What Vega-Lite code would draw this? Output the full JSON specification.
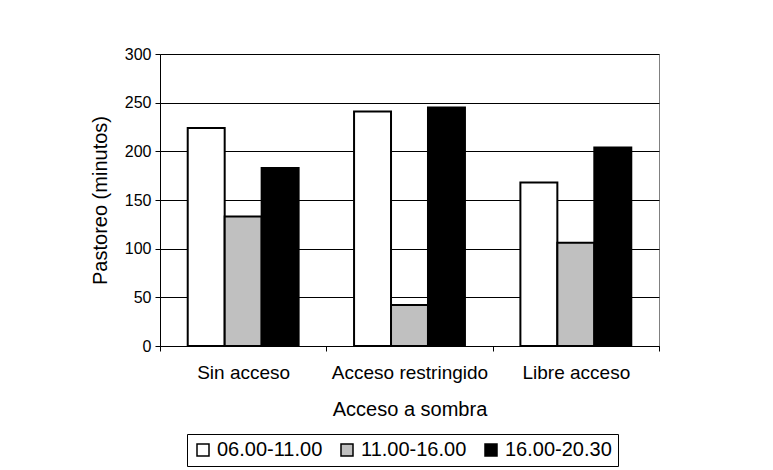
{
  "$schema": "https://vega.github.io/schema/vega-lite/v6.json",
  "width": 499,
  "height": 292,
  "autosize": {"type": "none"},
  "padding": {"left": 160, "top": 54, "right": 114, "bottom": 124},
  "background": "white",
  "data": {
    "values": [
      {"acceso": "Sin acceso", "periodo": "06.00-11.00", "minutos": 224},
      {"acceso": "Sin acceso", "periodo": "11.00-16.00", "minutos": 133},
      {"acceso": "Sin acceso", "periodo": "16.00-20.30", "minutos": 183},
      {"acceso": "Acceso restringido", "periodo": "06.00-11.00", "minutos": 241},
      {"acceso": "Acceso restringido", "periodo": "11.00-16.00", "minutos": 42},
      {"acceso": "Acceso restringido", "periodo": "16.00-20.30", "minutos": 245},
      {"acceso": "Libre acceso", "periodo": "06.00-11.00", "minutos": 168},
      {"acceso": "Libre acceso", "periodo": "11.00-16.00", "minutos": 106},
      {"acceso": "Libre acceso", "periodo": "16.00-20.30", "minutos": 204}
    ]
  },
  "mark": {"type": "bar", "stroke": "black", "strokeWidth": 2},
  "encoding": {
    "x": {
      "field": "acceso",
      "type": "nominal",
      "sort": ["Sin acceso", "Acceso restringido", "Libre acceso"],
      "scale": {"paddingInner": 0, "paddingOuter": 0},
      "axis": {
        "title": "Acceso a sombra",
        "tickBand": "extent",
        "tickSize": 5,
        "domainColor": "black",
        "tickColor": "black",
        "labelAngle": 0,
        "labelFontSize": 19,
        "labelColor": "black",
        "labelPadding": 12,
        "titleFontSize": 20,
        "titleFontWeight": "normal",
        "titleColor": "black",
        "titlePadding": 17,
        "grid": false
      }
    },
    "xOffset": {
      "field": "periodo",
      "type": "nominal",
      "sort": ["06.00-11.00", "11.00-16.00", "16.00-20.30"],
      "scale": {"paddingInner": 0, "paddingOuter": 0.75}
    },
    "y": {
      "field": "minutos",
      "type": "quantitative",
      "scale": {"domain": [0, 300], "nice": false},
      "axis": {
        "title": "Pastoreo (minutos)",
        "values": [0, 50, 100, 150, 200, 250, 300],
        "tickSize": 5,
        "domainColor": "black",
        "tickColor": "black",
        "gridColor": "black",
        "gridWidth": 1,
        "labelFontSize": 16,
        "labelColor": "black",
        "labelPadding": 4,
        "titleFontSize": 20,
        "titleFontWeight": "normal",
        "titleColor": "black",
        "titlePadding": 14
      }
    },
    "color": {
      "field": "periodo",
      "type": "nominal",
      "scale": {
        "domain": ["06.00-11.00", "11.00-16.00", "16.00-20.30"],
        "range": ["white", "#C0C0C0", "black"]
      },
      "legend": {
        "title": null,
        "orient": "none",
        "legendX": 27,
        "legendY": 380,
        "direction": "horizontal",
        "symbolType": "square",
        "symbolSize": 144,
        "symbolStrokeColor": "black",
        "symbolStrokeWidth": 1.5,
        "labelFontSize": 20,
        "labelColor": "black",
        "labelOffset": 4,
        "columnPadding": 14,
        "strokeColor": "black",
        "padding": 6
      }
    }
  },
  "config": {
    "font": "Liberation Sans",
    "view": {"stroke": "#808080"},
    "axis": {"gridOpacity": 1}
  }
}
